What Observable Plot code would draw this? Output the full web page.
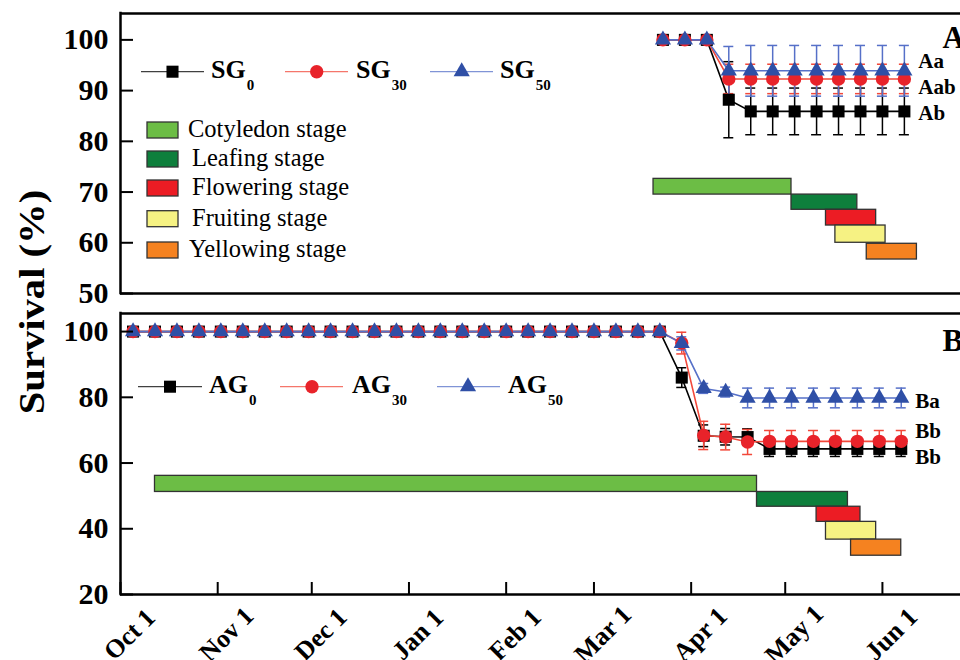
<!DOCTYPE html>
<html><head><meta charset="utf-8">
<script src="https://cdn.jsdelivr.net/npm/d3@7"></script>
<script src="https://cdn.jsdelivr.net/npm/@observablehq/plot@0.6"></script>
<style>
html,body{margin:0;padding:0;background:#fff;overflow:hidden;}
#wrap{position:relative;width:960px;height:660px;overflow:hidden;font-family:"Liberation Serif","Times New Roman",serif;}
#wrap svg{display:block;position:absolute;left:0;}
#ylab{position:absolute;left:33px;top:302px;transform:translate(-50%,-50%) rotate(-90deg) scaleX(1.16);white-space:nowrap;font:bold 35px "Liberation Serif","Times New Roman",serif;color:#000;}
</style></head>
<body><div id="wrap"><div id="ylab">Survival (%)</div></div>
<script>
// ---------- data ----------
const sgDates = ["2015-03-23","2015-03-30","2015-04-06","2015-04-13","2015-04-20","2015-04-27","2015-05-04","2015-05-11","2015-05-18","2015-05-25","2015-06-01","2015-06-08"];
const sg0    = [100,100,100,88.2,85.9,85.9,85.9,85.9,85.9,85.9,85.9,85.9];
const sg0Err = [0,0,0,7.5,4.6,4.6,4.6,4.6,4.6,4.6,4.6,4.6];
const sg30    = [100,100,100,92.3,92.3,92.3,92.3,92.3,92.3,92.3,92.3,92.3];
const sg30Err = [0,0,0,2.9,2.9,2.9,2.9,2.9,2.9,2.9,2.9,2.9];
const sg50    = [100,100,100,93.9,93.9,93.9,93.9,93.9,93.9,93.9,93.9,93.9];
const sg50Err = [0,0,0,4.8,5,5,5,5,5,5,5,5];

const agDates = ["2014-10-05","2014-10-12","2014-10-19","2014-10-26","2014-11-02","2014-11-09","2014-11-16","2014-11-23","2014-11-30","2014-12-07","2014-12-14","2014-12-21","2014-12-28","2015-01-04","2015-01-11","2015-01-18","2015-01-25","2015-02-01","2015-02-08","2015-02-15","2015-02-22","2015-03-01","2015-03-08","2015-03-15","2015-03-22","2015-03-29","2015-04-05","2015-04-12","2015-04-19","2015-04-26","2015-05-03","2015-05-10","2015-05-17","2015-05-24","2015-05-31","2015-06-07"];
const ag0    = [100,100,100,100,100,100,100,100,100,100,100,100,100,100,100,100,100,100,100,100,100,100,100,100,100,86,68.3,68,67.9,64.3,64.3,64.3,64.3,64.3,64.3,64.3];
const ag0Err = [0,0,0,0,0,0,0,0,0,0,0,0,0,0,0,0,0,0,0,0,0,0,0,0,0,3,3.3,2.5,2.5,2.3,2.3,2.3,2.3,2.3,2.3,2.3];
const ag30    = [100,100,100,100,100,100,100,100,100,100,100,100,100,100,100,100,100,100,100,100,100,100,100,100,100,96.5,68.4,67.9,66.4,66.6,66.6,66.6,66.6,66.6,66.6,66.6];
const ag30Err = [0,0,0,0,0,0,0,0,0,0,0,0,0,0,0,0,0,0,0,0,0,0,0,0,0,3.3,4.3,3.9,3.8,3.3,3.3,3.3,3.3,3.3,3.3,3.3];
const ag50    = [100,100,100,100,100,100,100,100,100,100,100,100,100,100,100,100,100,100,100,100,100,100,100,100,100,96.4,82.7,81.6,79.8,79.8,79.8,79.8,79.8,79.8,79.8,79.8];
const ag50Err = [0,0,0,0,0,0,0,0,0,0,0,0,0,0,0,0,0,0,0,0,0,0,0,0,0,2,1.5,1.5,3,3,3,3,3,3,3,3];

const stageNames  = ["Cotyledon stage","Leafing stage","Flowering stage","Fruiting stage","Yellowing stage"];
const stageColors = ["#6cbd45","#0e7f3c","#ec1c24","#f6f283","#f58220"];
const sgStageStart  = ["2015-03-20","2015-05-03","2015-05-14","2015-05-17","2015-05-27"];
const sgStageEnd    = ["2015-05-03","2015-05-24","2015-05-30","2015-06-02","2015-06-12"];
const sgStageTop    = [72.6,69.5,66.5,63.4,59.8];
const sgStageBottom = [69.5,66.5,63.4,60.0,56.7];
const agStageStart  = ["2014-10-12","2015-04-22","2015-05-11","2015-05-14","2015-05-22"];
const agStageEnd    = ["2015-04-22","2015-05-21","2015-05-25","2015-05-30","2015-06-07"];
const agStageTop    = [56.1,51.2,46.7,42.1,36.7];
const agStageBottom = [51.2,46.7,42.1,36.7,31.8];

const monthTicks  = ["2014-10-01","2014-11-01","2014-12-01","2015-01-01","2015-02-01","2015-03-01","2015-04-01","2015-05-01","2015-06-01"];
const monthLabels = ["Oct 1","Nov 1","Dec 1","Jan 1","Feb 1","Mar 1","Apr 1","May 1","Jun 1"];
const sgYTicks = [50,60,70,80,90,100];
const agYTicks = [20,40,60,80,100];
const seriesSubs = ["0","30","50"];

const seriesColors = {marker:["#000000","#e8232a","#2f4fa6"], line:["#000000","#f2483a","#5670c8"]};
const seriesSymbols = ["square","circle","triangle"];
const seriesR = [6.8,6.7,6];

// ---------- helpers ----------
const D = s => new Date(s);
const x0 = D("2014-10-01");
const xEnd = new Date(x0.getTime() + 267.9*864e5);
const FONT = '"Liberation Serif","Times New Roman",serif';

function buildRows(dates, vals, errs, k){
  return dates.map((d,i)=>({date:D(d), v:vals[i], e:errs[i], k}));
}

function panel(o){
  const series = o.series.map((s,k)=>buildRows(o.dates, s.v, s.e, k));
  const stages = stageNames.map((n,i)=>({n, c:stageColors[i], s:D(o.st[i]), e:D(o.en[i]), t:o.sTop[i], b:o.sBot[i]}));
  const yMin = o.yDomain[0], yMax = o.yDomain[1];
  const marks = [
    Plot.rect(stages, {x1:"s", x2:"e", y1:"b", y2:"t", fill:d=>d.c, stroke:"#333", strokeWidth:1.3})
  ];
  series.forEach((rows,k)=>{
    const er = rows.filter(r=>r.e>0);
    marks.push(Plot.line(rows, {x:"date", y:"v", stroke:seriesColors.line[k], strokeWidth:1.6}));
    marks.push(Plot.ruleX(er, {x:"date", y1:r=>r.v-r.e, y2:r=>r.v+r.e, stroke:seriesColors.line[k], strokeWidth:1.5}));
    marks.push(Plot.ruleY(er, {y:r=>r.v+r.e, x1:"date", x2:"date", insetLeft:-5, insetRight:-5, stroke:seriesColors.line[k], strokeWidth:1.5}));
    marks.push(Plot.ruleY(er, {y:r=>r.v-r.e, x1:"date", x2:"date", insetLeft:-5, insetRight:-5, stroke:seriesColors.line[k], strokeWidth:1.5}));
  });
  series.forEach((rows,k)=>{
    marks.push(Plot.dot(rows, {x:"date", y:"v", symbol:()=>seriesSymbols[k], r:seriesR[k], fill:seriesColors.marker[k], stroke:"none"}));
  });
  o.annot.forEach(a=>{
    const rows = series[a.k];
    const last = rows[rows.length-1];
    marks.push(Plot.text([last], {x:"date", y:"v", text:()=>a.text, dx:14, dy:a.dy, textAnchor:"start", lineAnchor:"middle", fontSize:21, fontWeight:"bold", fill:"#000"}));
  });
  marks.push(Plot.text([o.letter], {text:d=>d, frameAnchor:"top-right", dx:-18, dy:o.letterDy, textAnchor:"start", lineAnchor:"middle", fontSize:31, fontWeight:"bold", fill:"#000"}));
  marks.push(Plot.ruleY(o.yTicks, {y:d=>d, x1:()=>x0, x2:()=>x0, insetRight:-13, stroke:"#000", strokeWidth:2}));
  marks.push(Plot.text(o.yTicks, {y:d=>d, text:d=>String(d), frameAnchor:"left", textAnchor:"end", lineAnchor:"middle", dx:-12, fontSize:30, fontWeight:"bold", fill:"#000"}));
  if (o.showX){
    marks.push(Plot.ruleX(monthTicks.map(D), {x:d=>d, y1:()=>yMin, y2:()=>yMin, insetTop:-12, stroke:"#000", strokeWidth:2}));
    marks.push(Plot.text(monthTicks.map(D), {x:d=>d, text:(d,i)=>monthLabels[i], frameAnchor:"bottom", lineAnchor:"middle", dx:9, dy:40, rotate:-45, textAnchor:"middle", fontSize:26, fontWeight:"bold", fill:"#000"}));
  }
  marks.push(Plot.ruleY([yMax, yMin], {y:d=>d, stroke:"#000", strokeWidth:2.5}));
  marks.push(Plot.ruleX([x0], {x:d=>d, stroke:"#000", strokeWidth:2.5, strokeLinecap:"square"}));

  const svg = Plot.plot({
    width:960, height:o.height,
    marginLeft:120, marginRight:0, marginTop:o.marginTop, marginBottom:o.marginBottom,
    x:{type:"utc", domain:[x0, xEnd], axis:null},
    y:{domain:o.yDomain, axis:null},
    style:{fontFamily:FONT, background:"transparent", overflow:"visible"},
    marks
  });
  svg.style.top = o.offsetTop + "px";
  return svg;
}

function drawLegend(svg, items, rowY, prefix){
  const g = d3.select(svg).append("g").attr("font-family", FONT).attr("text-anchor","start").attr("fill","#000");
  items.forEach((it,k)=>{
    g.append("line").attr("x1",it.l1).attr("x2",it.l2).attr("y1",rowY).attr("y2",rowY)
      .attr("stroke", seriesColors.line[k]).attr("stroke-width",1.3).attr("stroke-opacity",0.75);
    const sym = {square:d3.symbolSquare, circle:d3.symbolCircle, triangle:d3.symbolTriangle}[seriesSymbols[k]];
    g.append("path").attr("d", d3.symbol(sym, Math.PI*seriesR[k]*seriesR[k])())
      .attr("transform",`translate(${it.m},${rowY})`).attr("fill", seriesColors.marker[k]);
    const t = g.append("text").attr("x",it.t).attr("y",rowY+6.5).attr("font-size",26).attr("font-weight","bold").text(prefix);
    t.append("tspan").attr("dy",12).attr("dx",1).attr("font-size",15).text(seriesSubs[k]);
  });
}

const wrap = document.getElementById("wrap");

const svgA = panel({
  dates:sgDates,
  series:[{v:sg0,e:sg0Err},{v:sg30,e:sg30Err},{v:sg50,e:sg50Err}],
  st:sgStageStart, en:sgStageEnd, sTop:sgStageTop, sBot:sgStageBottom,
  yDomain:[50,105.2], yTicks:sgYTicks, height:303, marginTop:13, marginBottom:10, offsetTop:0,
  showX:false, letter:"A", letterDy:25,
  annot:[{k:2,text:"Aa",dy:-10},{k:1,text:"Aab",dy:8},{k:0,text:"Ab",dy:2}]
});
wrap.appendChild(svgA);

const svgB = panel({
  dates:agDates,
  series:[{v:ag0,e:ag0Err},{v:ag30,e:ag30Err},{v:ag50,e:ag50Err}],
  st:agStageStart, en:agStageEnd, sTop:agStageTop, sBot:agStageBottom,
  yDomain:[20,105.5], yTicks:agYTicks, height:357, marginTop:10, marginBottom:66, offsetTop:303,
  showX:true, letter:"B", letterDy:28,
  annot:[{k:2,text:"Ba",dy:3},{k:1,text:"Bb",dy:-10},{k:0,text:"Bb",dy:8}]
});
wrap.appendChild(svgB);

drawLegend(svgA, [{l1:141,l2:204,m:172.5,t:211},{l1:285,l2:348,m:316.7,t:356},{l1:430,l2:493,m:461.7,t:500}], 71.7, "SG");
drawLegend(svgB, [{l1:138,l2:202,m:170,t:209},{l1:280,l2:343,m:312,t:352},{l1:437,l2:500,m:468,t:508}], 83.7, "AG");

const gS = d3.select(svgA).append("g").attr("font-family", FONT).attr("text-anchor","start").attr("fill","#000");
const stageY = [130,159,188,218.7,250];
const stageTx = [188,192,192,192,189];
stageNames.forEach((n,i)=>{
  gS.append("rect").attr("x",147).attr("y",stageY[i]-8).attr("width",31).attr("height",16)
    .attr("fill",stageColors[i]).attr("stroke","#333").attr("stroke-width",1.3);
  gS.append("text").attr("x",stageTx[i]).attr("y",stageY[i]+7).attr("font-size",24.5).text(n);
});
</script>
</body></html>
